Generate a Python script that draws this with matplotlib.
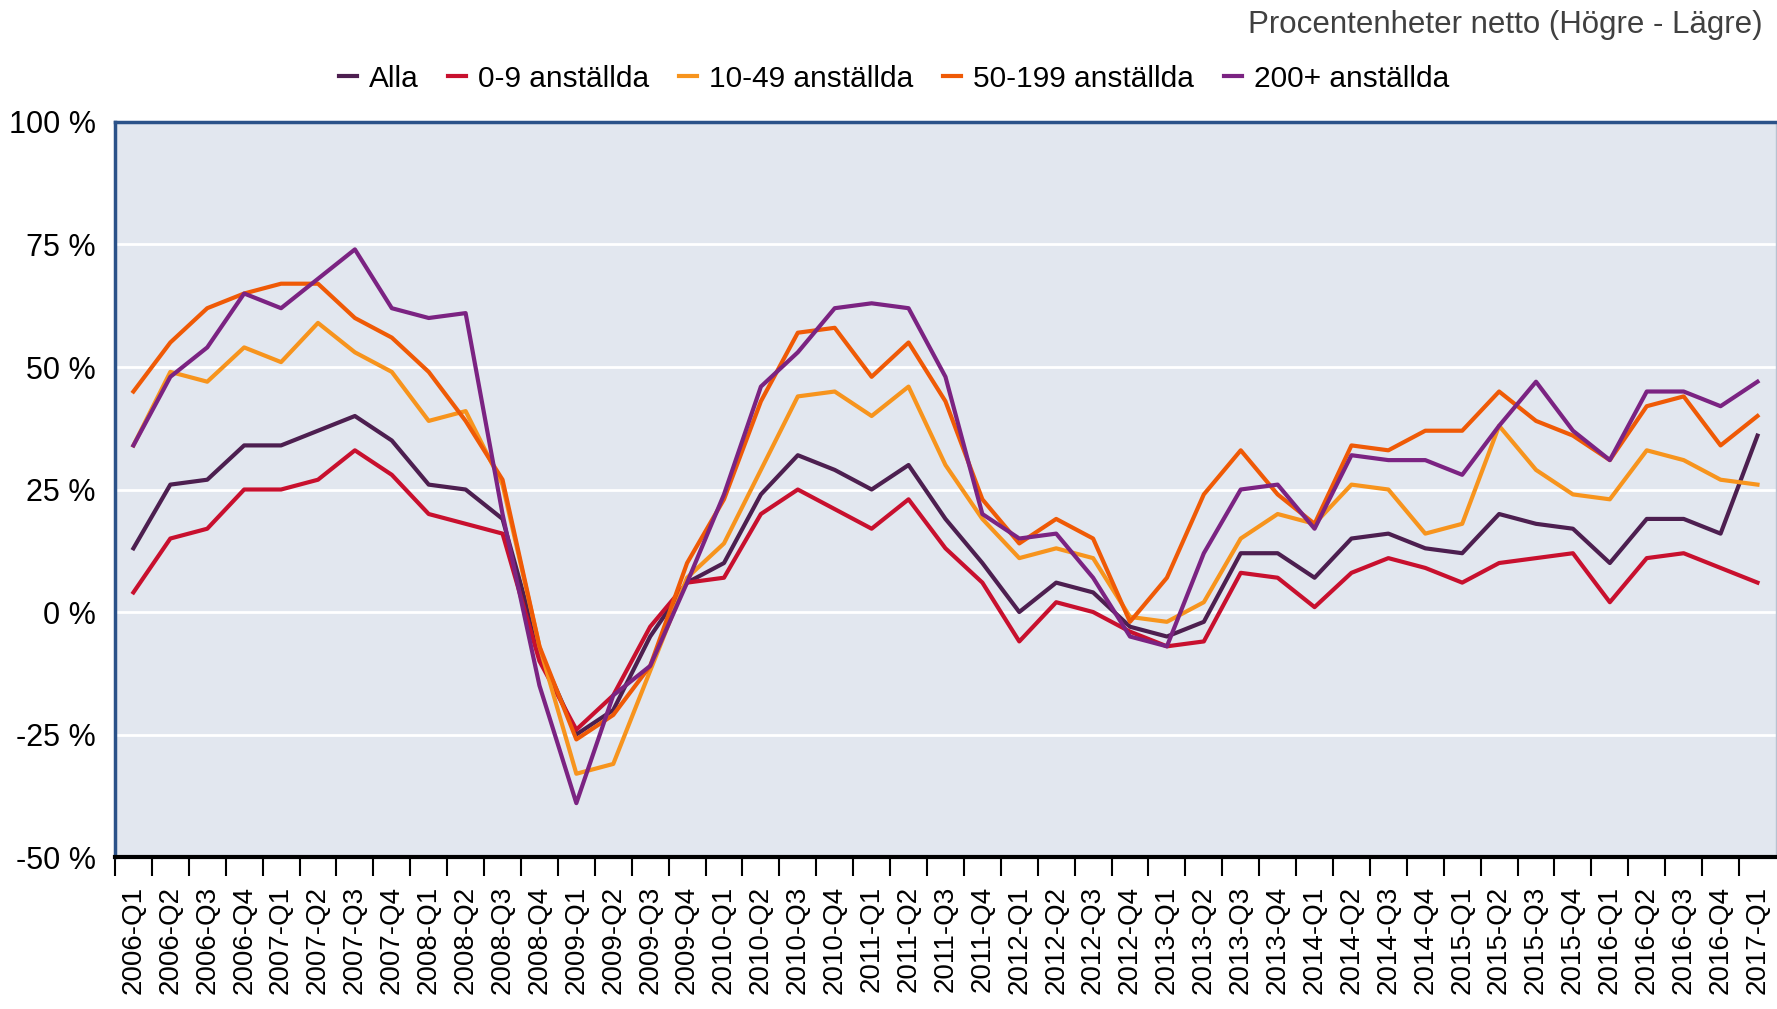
import numpy as np
import matplotlib.pyplot as plt

plt.rcParams['font.family'] = ['Liberation Sans', 'DejaVu Sans']

quarters = ["%d-Q%d" % (y, q) for y in range(2006, 2017) for q in range(1, 5)] + ["2017-Q1"]

alla = [13, 26, 27, 34, 34, 37, 40, 35, 26, 25, 19, -8,
        -25, -20, -5, 6, 10, 24, 32, 29, 25, 30, 19, 10,
        0, 6, 4, -3, -5, -2, 12, 12, 7, 15, 16, 13,
        12, 20, 18, 17, 10, 19, 19, 16, 36]
small = [4, 15, 17, 25, 25, 27, 33, 28, 20, 18, 16, -10,
         -24, -17, -3, 6, 7, 20, 25, 21, 17, 23, 13, 6,
         -6, 2, 0, -4, -7, -6, 8, 7, 1, 8, 11, 9,
         6, 10, 11, 12, 2, 11, 12, 9, 6]
medium = [34, 49, 47, 54, 51, 59, 53, 49, 39, 41, 26, -7,
          -33, -31, -12, 7, 14, 29, 44, 45, 40, 46, 30, 19,
          11, 13, 11, -1, -2, 2, 15, 20, 18, 26, 25, 16,
          18, 38, 29, 24, 23, 33, 31, 27, 26]
large = [45, 55, 62, 65, 67, 67, 60, 56, 49, 39, 27, -7,
         -26, -21, -11, 10, 23, 43, 57, 58, 48, 55, 43, 23,
         14, 19, 15, -2, 7, 24, 33, 24, 18, 34, 33, 37,
         37, 45, 39, 36, 31, 42, 44, 34, 40]
biggest = [34, 48, 54, 65, 62, 68, 74, 62, 60, 61, 20, -15,
           -39, -17, -11, 6, 24, 46, 53, 62, 63, 62, 48, 20,
           15, 16, 7, -5, -7, 12, 25, 26, 17, 32, 31, 31,
           28, 38, 47, 37, 31, 45, 45, 42, 47]

labels = ["Alla", "0-9 anställda", "10-49 anställda", "50-199 anställda", "200+ anställda"]
colors = ["#4d1f50", "#c8102e", "#f7941d", "#ef5a06", "#7b2382"]
yticks = [-50, -25, 0, 25, 50, 75, 100]

fig = plt.figure(figsize=(17.77, 10.09), dpi=100)
ax = fig.add_axes([0.0647, 0.1506, 0.9347, 0.7285])
ax.set_facecolor("#e2e7ef")

x = np.arange(len(quarters))
for series, lab, col in zip([alla, small, medium, large, biggest], labels, colors):
    ax.plot(x, series, color=col, lw=3, label=lab, zorder=3)

ax.set_xlim(-0.5, len(quarters) - 0.5)
ax.set_ylim(-50, 100)
ax.set_yticks(yticks)
ax.set_yticklabels(["%d %%" % v for v in yticks], fontsize=22)
ax.tick_params(axis="y", length=0, pad=14)
ax.grid(axis="y", color="white", lw=2, zorder=1)

# labels sit in the middle of each quarter, tick marks on the boundaries
ax.set_xticks(x)
ax.set_xticklabels(quarters, rotation=90, fontsize=20)
ax.set_xticks(np.arange(len(quarters)) - 0.5, minor=True)
ax.tick_params(axis="x", which="major", length=0, pad=21)
ax.tick_params(axis="x", which="minor", length=14, width=1.5, color="black")

ax.spines["left"].set_color("#2b5289")
ax.spines["left"].set_linewidth(2.5)
ax.spines["top"].set_color("#2b5289")
ax.spines["top"].set_linewidth(2.5)
ax.spines["right"].set_color("#b8c2d0")
ax.spines["right"].set_linewidth(1)
ax.spines["bottom"].set_color("black")
ax.spines["bottom"].set_linewidth(3)

fig.legend(loc="center", bbox_to_anchor=(0.503, 0.922), ncol=5, frameon=False,
           fontsize=21.5, handlelength=0.6, handletextpad=0.4, columnspacing=1.0)
fig.text(0.992, 0.975, "Procentenheter netto (Högre - Lägre)", ha="right", va="center",
         fontsize=22.5, color="#404040")

plt.savefig("out.png", dpi=100)
